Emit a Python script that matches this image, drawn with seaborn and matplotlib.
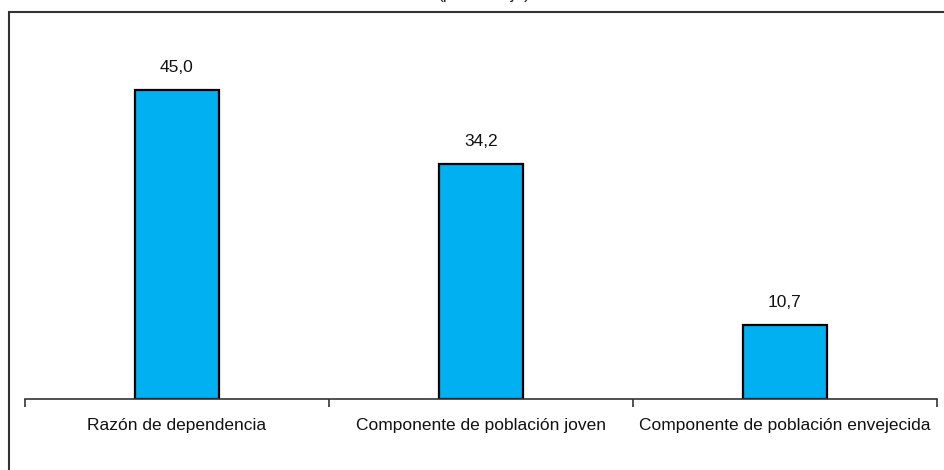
import numpy as np
import pandas as pd
import seaborn as sns
import matplotlib.pyplot as plt
from matplotlib.patches import Rectangle


categorias = ['Razón de dependencia', 'Componente de población joven',
              'Componente de población envejecida']
valores = [45.0, 34.2, 10.7]
etiquetas = ['45,0', '34,2', '10,7']


df = pd.DataFrame({'categoria': categorias, 'valor': valores})

sns.set_style('white')
plt.rcParams['font.family'] = ['Liberation Sans', 'DejaVu Sans']

fig = plt.figure(figsize=(9.45, 4.70), dpi=100)
# outer frame (cut at right and bottom)
fig.patches.append(Rectangle((9 / 945, -0.05), 1.0, 1 - 12 / 470 + 0.05,
                             transform=fig.transFigure, fill=False,
                             edgecolor='#333333', linewidth=1.5))
# title sits mostly above the picture, as in the source
fig.text(484 / 945, 1 + 1 / 470, '(porcentaje)', ha='center', va='baseline',
         fontsize=12.5, color='#222222')

ax = fig.add_axes([25 / 945, 1 - 399 / 470, 912 / 945, (399 - 55.5) / 470])
sns.barplot(data=df, x='categoria', y='valor', color='#00B0F0',
            edgecolor='black', linewidth=1.6, width=0.275, saturation=1,
            ax=ax)

ax.set_ylim(0, 50)
ax.set_xlim(-0.5, 2.5)
ax.set_xlabel('')
ax.set_ylabel('')
ax.set_yticks([])
for s in ['top', 'right', 'left']:
    ax.spines[s].set_visible(False)
ax.spines['bottom'].set_color('#333333')
ax.spines['bottom'].set_linewidth(1.2)

ax.set_xticks([-0.5, 0.5, 1.5, 2.5], minor=True)
ax.tick_params(axis='x', which='minor', bottom=True, length=6,
               width=1.2, color='#333333')
ax.tick_params(axis='x', which='major', bottom=False, length=0, pad=14,
               labelsize=12.5, labelcolor='#111111')

for i, (v, t) in enumerate(zip(valores, etiquetas)):
    ax.annotate(t, (i, v), xytext=(0, 11), textcoords='offset points',
                ha='center', va='bottom', fontsize=12.5, color='#111111')

fig.savefig('out.png', dpi=100)
